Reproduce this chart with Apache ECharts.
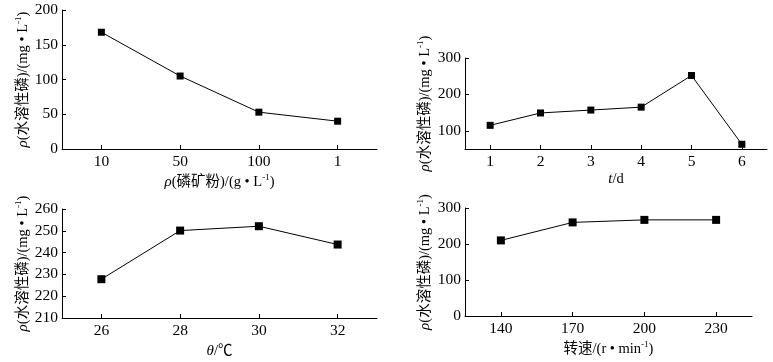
<!DOCTYPE html>
<html><head><meta charset="utf-8">
<script src="https://cdn.jsdelivr.net/npm/echarts@6/dist/echarts.min.js"></script>
<style>html,body{margin:0;padding:0;background:#fff}#c{width:773px;height:362px}</style>
</head><body><div id="c"></div>
<script>
// Panel 1: phosphate rock dosage
const cat1 = ['10', '50', '100', '1'];
const val1 = [168, 105, 53, 40];
const yTicks1 = [0, 50, 100, 150, 200];
// Panel 2: time
const cat2 = ['1', '2', '3', '4', '5', '6'];
const val2 = [115, 149, 157, 165, 252, 63];
const yTicks2 = [100, 200, 300];
// Panel 3: temperature
const cat3 = ['26', '28', '30', '32'];
const val3 = [227.8, 250.1, 252.1, 243.7];
const yTicks3 = [210, 220, 230, 240, 250, 260];
// Panel 4: rotation speed
const cat4 = ['140', '170', '200', '230'];
const val4 = [210, 260, 267, 267];
const yTicks4 = [0, 100, 200, 300];

const FONT = '"Liberation Serif", "Times New Roman", "Noto Sans CJK SC", serif';
const rich = {
  i: {fontStyle: 'italic', fontFamily: FONT, fontSize: 15, color: '#000', lineHeight: 18},
  s: {fontSize: 9, fontFamily: FONT, color: '#000', verticalAlign: 'top', lineHeight: 18},
  n: {fontSize: 14.5, fontFamily: FONT, color: '#000', lineHeight: 18}
};
const yName = '{i|ρ}{n|(水溶性磷)/(mg • L}{s|-1}{n|)}';

const grids = [
  {left: 62, top: 10, width: 315, height: 139},
  {left: 465, top: 58, width: 302, height: 91},
  {left: 62, top: 209, width: 315, height: 109},
  {left: 465, top: 208, width: 287, height: 108}
];
const xNames = [
  '{i|ρ}{n|(磷矿粉)/(g • L}{s|-1}{n|)}',
  '{i|t}{n|/d}',
  '{i|θ}{n|/℃}',
  '{n|转速/(r • min}{s|-1}{n|)}'
];
const xNameGaps = [24, 21, 24, 24];
const cats = [cat1, cat2, cat3, cat4];
const vals = [val1, val2, val3, val4];
const yT = [yTicks1, yTicks2, yTicks3, yTicks4];
const yRange = [[0, 200], [50, 300], [210, 260], [0, 300]];
const yNameGaps = [30, 31, 30, 31];
const symSizes = [7, 7, 8, 8];

const axisLine = {show: true, lineStyle: {color: '#000', width: 1}};
const tickStyle = {show: true, inside: true, length: 4, lineStyle: {color: '#000', width: 1}};
const labelStyle = {color: '#000', fontFamily: FONT, fontSize: 15.5};

const option = {
  animation: false,
  backgroundColor: '#fff',
  grid: grids,
  xAxis: grids.map((g, i) => ({
    type: 'category', gridIndex: i, data: cats[i], boundaryGap: true,
    axisLine: axisLine,
    axisTick: Object.assign({alignWithLabel: true}, tickStyle),
    axisLabel: Object.assign({margin: 5}, labelStyle),
    splitLine: {show: false},
    name: xNames[i], nameLocation: 'middle', nameGap: xNameGaps[i],
    nameTextStyle: {rich: rich}
  })),
  yAxis: grids.map((g, i) => ({
    type: 'value', gridIndex: i, min: yRange[i][0], max: yRange[i][1],
    axisLine: axisLine,
    axisTick: Object.assign({customValues: yT[i]}, tickStyle),
    axisLabel: Object.assign({margin: 4, customValues: yT[i]}, labelStyle),
    splitLine: {show: false},
    name: yName, nameLocation: 'middle', nameGap: yNameGaps[i], nameRotate: 90,
    nameTextStyle: {rich: rich}
  })),
  series: grids.map((g, i) => ({
    type: 'line', xAxisIndex: i, yAxisIndex: i, data: vals[i],
    symbol: 'rect', symbolSize: symSizes[i],
    itemStyle: {color: '#000'},
    lineStyle: {color: '#000', width: 1}
  }))
};
const chart = echarts.init(document.getElementById('c'), null, {renderer: 'canvas'});
chart.setOption(option);
</script></body></html>
